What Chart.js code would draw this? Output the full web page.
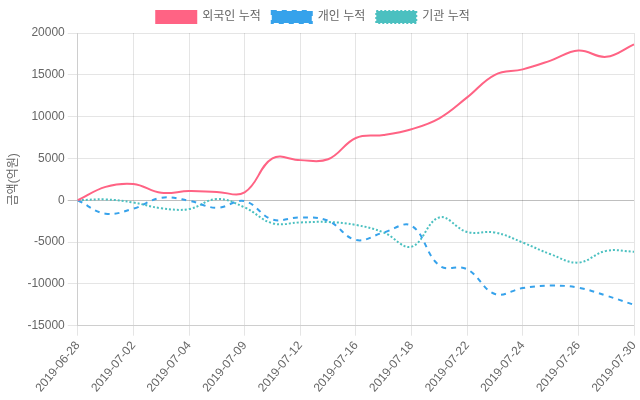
<!DOCTYPE html>
<html>
<head>
<meta charset="utf-8">
<script src="https://cdn.jsdelivr.net/npm/chart.js@4/dist/chart.umd.min.js"></script>
<style>
  html, body { margin: 0; padding: 0; background: #fff; }
  #wrap { width: 640px; height: 400px; }
</style>
</head>
<body>
<div id="wrap"><canvas id="myChart"></canvas></div>
<script>
// DATA ----------------------------------------------------------------
var dates = ["2019-06-28", "2019-07-01", "2019-07-02", "2019-07-03", "2019-07-04",
  "2019-07-05", "2019-07-09", "2019-07-10", "2019-07-12", "2019-07-15",
  "2019-07-16", "2019-07-17", "2019-07-18", "2019-07-19", "2019-07-22",
  "2019-07-23", "2019-07-24", "2019-07-25", "2019-07-26", "2019-07-29", "2019-07-30"];

var foreignSum = [0, 1600, 1950, 900, 1100, 1000, 950, 5000, 4800, 4900,
  7450, 7800, 8500, 9800, 12300, 15000, 15650, 16700, 17900, 17150, 18650];

var personSum = [0, -1600, -1000, 300, -50, -900, -100, -2300, -2050, -2450,
  -4750, -3850, -3050, -7800, -8250, -11200, -10500, -10200, -10450, -11400, -12500];

var instSum = [0, 100, -270, -950, -1050, 150, -850, -2750, -2650, -2600,
  -2950, -3850, -5550, -2050, -3800, -3850, -5050, -6450, -7450, -6050, -6150];

var yTitle = "금액(억원)";

// CHART ---------------------------------------------------------------
Chart.defaults.font.family = "'Helvetica Neue', Helvetica, Arial, 'Liberation Sans', 'Noto Sans CJK KR', sans-serif";
Chart.defaults.font.size = 12;
Chart.defaults.color = "#666";

function gridColor(ctx) {
  return ctx.tick && ctx.tick.value === 0 ? "rgba(0,0,0,0.25)" : "rgba(0,0,0,0.1)";
}

// nudge the legend a bit to the left, like the old v2 layout
var legendShift = {
  id: "legendShift",
  afterLayout: function(chart) {
    chart.legend.left -= 8;
    chart.legend.right -= 8;
  }
};

var ctx = document.getElementById("myChart").getContext("2d");
var chart = new Chart(ctx, {
  type: "line",
  data: {
    labels: dates,
    datasets: [{
      label: "외국인 누적",
      data: foreignSum,
      borderColor: "rgb(255, 99, 132)",
      backgroundColor: "rgb(255, 99, 132)",
      borderWidth: 2,
      fill: false,
      tension: 0.4,
      pointRadius: 0
    }, {
      label: "개인 누적",
      data: personSum,
      borderColor: "rgb(54, 162, 235)",
      backgroundColor: "rgb(54, 162, 235)",
      borderWidth: 2,
      borderDash: [5, 5],
      fill: false,
      tension: 0.4,
      pointRadius: 0
    }, {
      label: "기관 누적",
      data: instSum,
      borderColor: "rgb(75, 192, 192)",
      backgroundColor: "rgb(75, 192, 192)",
      borderWidth: 2,
      borderDash: [2, 2],
      fill: false,
      tension: 0.4,
      pointRadius: 0
    }]
  },
  plugins: [legendShift],
  options: {
    responsive: true,
    maintainAspectRatio: false,
    animation: false,
    layout: { padding: { left: 2, bottom: 2 } },
    plugins: {
      legend: {
        labels: { boxWidth: 40, padding: 11, font: { size: 12 } }
      },
      tooltip: { enabled: false }
    },
    scales: {
      x: {
        grid: { color: "rgba(0,0,0,0.1)", tickLength: 10 },
        border: { color: "rgba(0,0,0,0.1)" },
        ticks: { maxRotation: 50, minRotation: 50, autoSkip: true, maxTicksLimit: 11 },
        afterFit: function(scale) { scale.paddingRight = 6; }
      },
      y: {
        min: -15000,
        max: 20000,
        grid: { color: gridColor, tickLength: 10 },
        border: { color: "rgba(0,0,0,0.1)" },
        ticks: {
          stepSize: 5000,
          callback: function(v) { return String(v); }
        },
        title: { display: true, text: yTitle, font: { size: 12 } }
      }
    }
  }
});
</script>
</body>
</html>
